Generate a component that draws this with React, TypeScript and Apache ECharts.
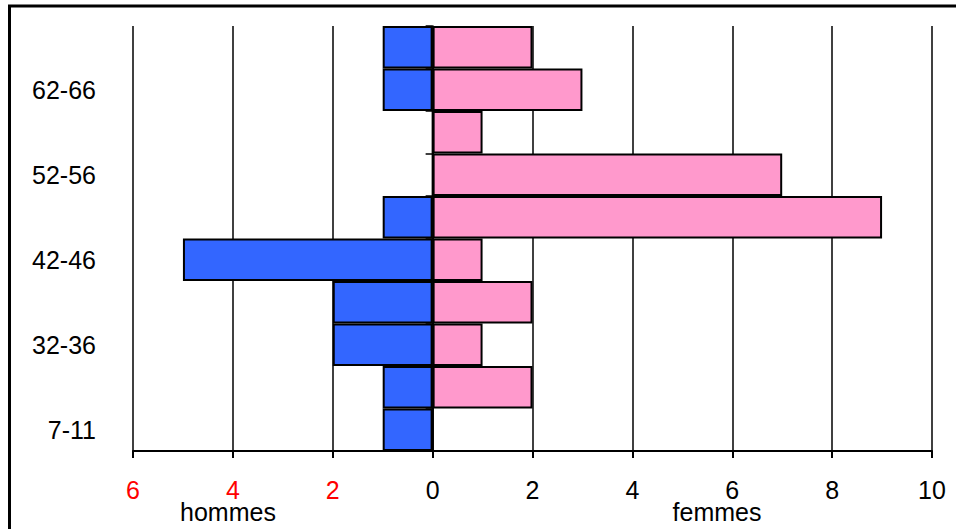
import React, { useEffect, useRef } from "react";
import * as echarts from "echarts";

const categories = ["7-11", "27-31", "32-36", "37-41", "42-46", "47-51", "52-56", "57-61", "62-66", "67-71"];
const hommes = [1, 1, 2, 2, 5, 1, 0, 0, 1, 1];
const femmes = [0, 2, 1, 2, 1, 9, 7, 1, 3, 2];
const xTicks = [-6, -4, -2, 0, 2, 4, 6, 8, 10];

const FONT = "Arial, 'Liberation Sans', sans-serif";

export default function App() {
  const ref = useRef<HTMLDivElement>(null);
  useEffect(() => {
    if (!ref.current) return;
    const chart = echarts.init(ref.current, null, { renderer: "svg" });
    const xMin = xTicks[0];
    const xMax = xTicks[xTicks.length - 1];
    const gridLeft = 133;
    const gridRight = 932;
    const zeroX = gridLeft + ((0 - xMin) / (xMax - xMin)) * (gridRight - gridLeft);
    chart.setOption({
      animation: false,
      backgroundColor: "#ffffff",
      grid: { left: gridLeft, right: 956 - gridRight, top: 26, bottom: 529 - 451, containLabel: false },
      xAxis: {
        type: "value",
        min: xMin,
        max: xMax,
        interval: 2,
        axisLine: { show: true, lineStyle: { color: "#000", width: 2 } },
        axisTick: { show: true, length: 7, lineStyle: { color: "#000", width: 2 } },
        splitLine: { show: true, lineStyle: { color: "#000", width: 1.5 } },
        axisLabel: {
          fontFamily: FONT,
          fontSize: 25,
          margin: 26,
          formatter: (v: number) => String(Math.abs(v)),
          color: (v: any) => (Number(v) < 0 ? "#FF0000" : "#000000"),
        },
      },
      yAxis: [
        {
          type: "category",
          data: categories,
          axisLine: { show: false },
          axisTick: { show: false },
          axisLabel: { interval: 1, fontFamily: FONT, fontSize: 25, color: "#000", margin: 37 },
        },
        {
          type: "category",
          data: categories,
          position: "left",
          offset: -(zeroX - gridLeft),
          axisLine: { show: true, lineStyle: { color: "#000", width: 1.5 } },
          axisTick: { show: true, interval: 0, length: 7, lineStyle: { color: "#000", width: 1.5 } },
          axisLabel: { show: false },
        },
      ],
      series: [
        {
          name: "hommes",
          type: "bar",
          data: hommes.map((v) => -v),
          barGap: "-100%",
          barCategoryGap: 0,
          itemStyle: { color: "#3366FF", borderColor: "#000", borderWidth: 2 },
        },
        {
          name: "femmes",
          type: "bar",
          data: femmes,
          barGap: "-100%",
          barCategoryGap: 0,
          itemStyle: { color: "#FF99CC", borderColor: "#000", borderWidth: 2 },
        },
      ],
      graphic: [
        {
          type: "text",
          x: 228,
          y: 512,
          style: { text: "hommes", fontFamily: FONT, fontSize: 25, fill: "#000", align: "center", verticalAlign: "middle" },
        },
        {
          type: "text",
          x: 717,
          y: 512,
          style: { text: "femmes", fontFamily: FONT, fontSize: 25, fill: "#000", align: "center", verticalAlign: "middle" },
        },
        {
          type: "rect",
          shape: { x: 9.5, y: 6, width: 1000, height: 600 },
          style: { fill: "none", stroke: "#000", lineWidth: 3 },
          z: 100,
        },
      ],
    });
    return () => chart.dispose();
  }, []);
  return (
    <div
      ref={ref}
      style={{ position: "fixed", left: 0, top: 0, width: 956, height: 529, background: "#fff" }}
    />
  );
}
